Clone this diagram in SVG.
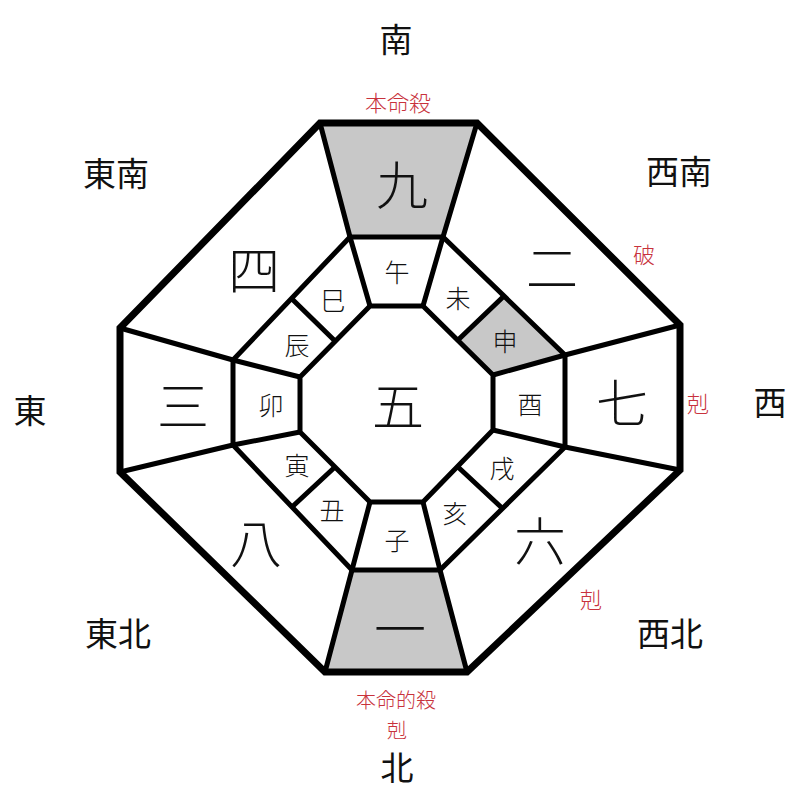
<svg xmlns="http://www.w3.org/2000/svg" width="800" height="800" viewBox="0 0 800 800">
<style>
text{font-family:"Noto Sans CJK JP","Noto Sans CJK SC",sans-serif;text-anchor:middle;dominant-baseline:central;fill:#111}
.dir{font-size:33px}
.red{font-size:22px;fill:#c8323c;font-weight:300}
.red2{font-size:20px;fill:#c8323c;font-weight:300}
.num{font-size:52px;font-weight:300}
.br{font-size:25px;font-weight:300}
.ln{stroke:#000;stroke-width:5;fill:none;stroke-linejoin:miter}
.outer{stroke:#000;stroke-width:7;fill:none;stroke-linejoin:miter}
.gray{fill:#c8c8c8}
</style>
<rect width="800" height="800" fill="#fff"/>
<g id="fills">
<polygon class="gray" points="320,123 477,123 443,237 350,237"/>
<polygon class="gray" points="352,570 440,570 467,672 325,672"/>
<polygon class="gray" points="458,340 504,296 565,355 493,375"/>
</g>
<g id="lines">
<polygon class="ln" points="350,237 443,237 565,355 565,447 440,570 352,570 233,445 233,360"/>
<polygon class="ln" points="370,306 423,306 493,375 493,430 423,502 370,502 300,432 300,377"/>
<path class="ln" d="M350,237L320,123M443,237L477,123M565,355L680,325M565,447L680,470M440,570L467,672M352,570L325,672M233,445L120,472M233,360L120,328"/>
<path class="ln" d="M370,306L350,237M423,306L443,237M493,375L565,355M493,430L565,447M423,502L440,570M370,502L352,570M300,432L233,445M300,377L233,360"/>
<path class="ln" d="M458,340L504,296M335,341L291,298M458,467L502,508M335,467L292,507"/>
<polygon class="outer" points="320,123 477,123 680,325 680,470 467,672 325,672 120,472 120,328"/>
</g>
<g id="directions">
<text class="dir" x="396" y="38">南</text>
<text class="dir" x="116" y="172">東南</text>
<text class="dir" x="679" y="170">西南</text>
<text class="dir" x="30" y="409">東</text>
<text class="dir" x="770" y="401">西</text>
<text class="dir" x="118" y="632">東北</text>
<text class="dir" x="670" y="632">西北</text>
<text class="dir" x="397" y="766">北</text>
</g>
<g id="notes">
<text class="red" x="398" y="101">本命殺</text>
<text class="red" x="644" y="253">破</text>
<text class="red" x="698" y="402">剋</text>
<text class="red" x="591" y="598">剋</text>
<text class="red2" x="396" y="699">本命的殺</text>
<text class="red2" x="397" y="729">剋</text>
</g>
<g id="numbers">
<text class="num" x="402" y="182">九</text>
<text class="num" x="552" y="265">二</text>
<text class="num" x="254" y="267">四</text>
<text class="num" x="183" y="403">三</text>
<text class="num" x="398" y="403">五</text>
<text class="num" x="622" y="400">七</text>
<text class="num" x="256" y="540">八</text>
<text class="num" x="540" y="538">六</text>
<text class="num" x="400" y="626">一</text>
</g>
<g id="branches">
<text class="br" x="397" y="271">午</text>
<text class="br" x="333" y="299">巳</text>
<text class="br" x="458" y="297">未</text>
<text class="br" x="297" y="344">辰</text>
<text class="br" x="505" y="340">申</text>
<text class="br" x="271" y="404">卯</text>
<text class="br" x="530" y="403">酉</text>
<text class="br" x="297" y="464">寅</text>
<text class="br" x="502" y="467">戌</text>
<text class="br" x="332" y="509">丑</text>
<text class="br" x="455" y="512">亥</text>
<text class="br" x="397" y="539">子</text>
</g>
</svg>
